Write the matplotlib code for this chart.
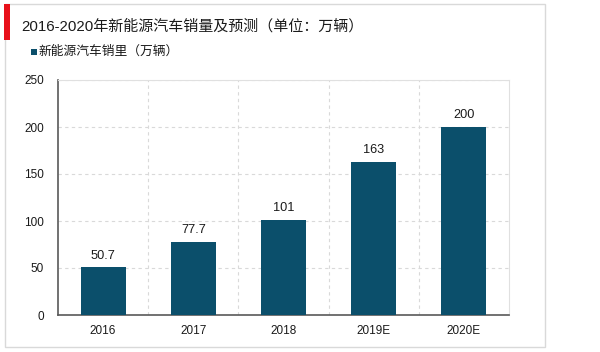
import numpy as np
import matplotlib.pyplot as plt
from matplotlib.patches import Rectangle

plt.rcParams['font.family'] = ['Liberation Sans', 'Noto Sans CJK SC', 'DejaVu Sans']

# --------------------------------------------------------------------------+
years = ['2016', '2017', '2018', '2019E', '2020E']
sales = [50.7, 77.7, 101, 163, 200]
labels = ['50.7', '77.7', '101', '163', '200']
title = '2016-2020年新能源汽车销量及预测（单位：万辆）'
legend_name = '新能源汽车销里（万辆）'
bar_color = '#0b4f6b'
# --------------------------------------------------------------------------+

W, H = 600, 352
fig = plt.figure(figsize=(W / 100, H / 100), dpi=100)

# outer frame and red marker
fig.patches.append(Rectangle((5 / W, 1 - 347 / H), 540 / W, 343 / H, transform=fig.transFigure,
                             facecolor='white', edgecolor='#d9d9d9', linewidth=1, zorder=-5))
fig.patches.append(Rectangle((4 / W, 1 - 40 / H), 6 / W, 36 / H, transform=fig.transFigure,
                             facecolor='#e8101a', edgecolor='none', zorder=-4))

fig.text(21 / W, 1 - 26 / H, title, fontsize=10.8, va='center', ha='left', color='#1a1a1a')
fig.patches.append(Rectangle((31 / W, 1 - 55 / H), 6 / W, 6 / H, transform=fig.transFigure,
                             facecolor=bar_color, edgecolor='none'))
fig.text(38 / W, 1 - 52 / H, legend_name, fontsize=9.2, va='center', ha='left', color='#1a1a1a')

ax = fig.add_axes([58 / W, 1 - 315 / H, 451 / W, 235 / H])
ax.patch.set_alpha(0)
x = np.arange(len(years))
ax.bar(x, sales, width=0.5, color=bar_color, zorder=3)
for xi, v, lab in zip(x, sales, labels):
    ax.text(xi, v + 6, lab, ha='center', va='bottom', fontsize=9.2, color='#1a1a1a')

ax.set_xlim(-0.5, len(years) - 0.5)
ax.set_ylim(0, 250)
ax.set_yticks(np.arange(0, 251, 50))
ax.set_xticks(x)
ax.set_xticklabels(years)
ax.tick_params(axis='both', length=0, labelsize=8.5, colors='#1a1a1a')
ax.tick_params(axis='y', pad=10)
ax.tick_params(axis='x', pad=7)

for yv in np.arange(50, 251, 50):
    ax.axhline(yv, color='#d9d9d9', linestyle=(0, (3, 3)), linewidth=0.8, zorder=1)
for xv in np.arange(0.5, len(years) - 0.5, 1):
    ax.axvline(xv, color='#d9d9d9', linestyle=(0, (3, 3)), linewidth=0.8, zorder=1)

ax.spines['left'].set_color('#595959')
ax.spines['bottom'].set_color('#595959')
ax.spines['left'].set_linewidth(1.2)
ax.spines['bottom'].set_linewidth(1.2)
ax.spines['top'].set_color('#e0e0e0')
ax.spines['right'].set_color('#e0e0e0')

fig.savefig('out.png', dpi=100)
